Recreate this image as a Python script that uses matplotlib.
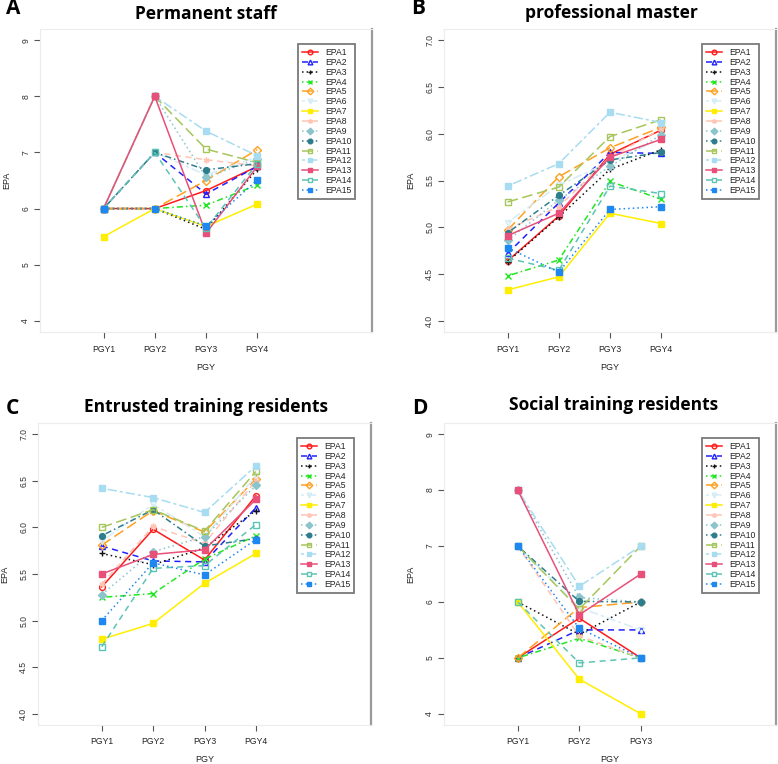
import numpy as np
import matplotlib
matplotlib.use("Agg")
import matplotlib.pyplot as plt

plt.rcParams['font.family'] = ['Liberation Sans', 'DejaVu Sans']

W, H = 778, 764

labels = ['EPA1', 'EPA2', 'EPA3', 'EPA4', 'EPA5', 'EPA6', 'EPA7', 'EPA8',
          'EPA9', 'EPA10', 'EPA11', 'EPA12', 'EPA13', 'EPA14', 'EPA15']
pgy4 = ['PGY1', 'PGY2', 'PGY3', 'PGY4']
pgy3 = ['PGY1', 'PGY2', 'PGY3']

# A: permanent staff
staff = [
    [6, 6, 6.32, 6.75],
    [6, 7, 6.26, 6.75],
    [6, 6, 5.63, 6.70],
    [6, 6, 6.06, 6.42],
    [6, 6, 6.50, 7.05],
    [6, 7, 6.60, 6.92],
    [5.5, 6, 5.68, 6.08],
    [6, 7, 6.87, 6.76],
    [6, 8, 6.56, 6.88],
    [6, 7, 6.69, 6.80],
    [6, 8, 7.06, 6.82],
    [6, 8, 7.38, 6.94],
    [6, 8, 5.56, 6.75],
    [6, 7, 5.65, 6.80],
    [6, 6, 5.69, 6.51],
]
# B: professional master
master = [
    [4.64, 5.12, 5.78, 6.04],
    [4.72, 5.26, 5.80, 5.79],
    [4.63, 5.11, 5.62, 5.83],
    [4.48, 4.65, 5.49, 5.30],
    [4.97, 5.54, 5.85, 6.07],
    [5.05, 5.45, 5.70, 5.95],
    [4.33, 4.47, 5.15, 5.04],
    [4.98, 5.22, 5.75, 6.05],
    [4.86, 5.29, 5.65, 5.99],
    [4.94, 5.34, 5.72, 5.80],
    [5.27, 5.43, 5.97, 6.15],
    [5.44, 5.68, 6.23, 6.12],
    [4.91, 5.15, 5.75, 5.94],
    [4.67, 4.54, 5.44, 5.36],
    [4.78, 4.52, 5.19, 5.22],
]
# C: entrusted training residents
entrusted = [
    [5.36, 5.98, 5.65, 6.34],
    [5.80, 5.64, 5.63, 6.21],
    [5.72, 5.60, 5.78, 6.18],
    [5.25, 5.29, 5.66, 5.91],
    [5.81, 6.18, 5.95, 6.52],
    [5.85, 6.25, 5.90, 6.55],
    [4.80, 4.97, 5.40, 5.72],
    [5.39, 6.01, 5.83, 6.50],
    [5.28, 5.74, 5.90, 6.45],
    [5.91, 6.19, 5.80, 5.88],
    [6.00, 6.19, 5.96, 6.60],
    [6.42, 6.32, 6.16, 6.66],
    [5.50, 5.71, 5.76, 6.30],
    [4.72, 5.56, 5.59, 6.03],
    [5.00, 5.62, 5.49, 5.87],
]
# D: social training residents
social = [
    [5, 5.71, 5],
    [5, 5.50, 5.5],
    [6, 5.42, 6],
    [5, 5.35, 5],
    [5, 5.90, 6],
    [7, 5.90, 5.5],
    [6, 4.62, 4],
    [7, 5.39, 5],
    [8, 6.08, 6],
    [7, 6.01, 6],
    [7, 5.87, 7],
    [8, 6.28, 7],
    [8, 5.77, 6.5],
    [6, 4.91, 5],
    [7, 5.53, 5],
]

colors = ['#ff1a1a', '#2020ff', '#111111', '#22e622', '#ffa020', '#d4ecf6',
          '#ffee00', '#ffc4b4', '#8cc4cc', '#2e7d8c', '#a6c65a', '#a8dcf0',
          '#e8507a', '#5cc4b4', '#1e88f0']
markers = ['o', '^', '+', 'x', 'D', 'v', 's', (6, 2, 0), 'D', 'o', 's', 's',
           's', 's', 's']
filled = [False, False, True, True, False, False, True, True, True, True,
          False, True, True, False, True]
# R lty 1..6 cycled
ltys = ['-', (0, (4, 3)), (0, (1, 2)), (0, (1, 2, 4, 2)), (0, (7, 3)), (0, (2, 2, 6, 2))]

fig = plt.figure(figsize=(W / 100, H / 100), dpi=100)


def panel(box, data, cats, ylim, yticks, yfmt, title, letter, tx, ty, lx, ly, xspan):
    l, t, r, b = box
    ax = fig.add_axes([l / W, 1 - b / H, (r - l) / W, (b - t) / H])
    x = np.arange(1, len(cats) + 1)
    for i, vals in enumerate(data):
        c = colors[i]
        ax.plot(x, vals, color=c, lw=1.1, linestyle=ltys[i % 6],
                marker=markers[i], markersize=4.2, markeredgewidth=1.0,
                markerfacecolor=c if filled[i] else 'none', markeredgecolor=c,
                label=labels[i])
    ax.set_xlim(-xspan * 0.04, xspan * 1.04)
    ax.set_ylim(ylim)
    ax.set_xticks(x)
    ax.set_xticklabels(cats, fontsize=6.2)
    ax.set_yticks(yticks)
    ax.set_yticklabels([yfmt % v for v in yticks], fontsize=6.2, rotation=90, va='center')
    ax.tick_params(axis='both', colors='#555555', length=4, width=0.8)
    ax.tick_params(axis='y', labelcolor='#333333', pad=3)
    ax.tick_params(axis='x', labelcolor='#222222', pad=5)
    for s in ['left', 'top', 'bottom']:
        ax.spines[s].set_color('#ececec')
        ax.spines[s].set_linewidth(0.8)
    ax.spines['right'].set_color('#9a9a9a')
    ax.spines['right'].set_linewidth(1.6)
    leg = ax.legend(loc='upper right', bbox_to_anchor=(0.95, 0.95), borderaxespad=0,
                    fontsize=6.2, handlelength=1.9, labelspacing=0.1,
                    handletextpad=0.8, borderpad=0.45, fancybox=False, framealpha=1,
                    markerscale=0.8)
    leg.get_frame().set_edgecolor('#7a7a7a')
    leg.get_frame().set_linewidth(1.3)
    for txt in leg.get_texts():
        txt.set_color('#222222')
    fig.text(tx / W, 1 - ty / H, title, fontsize=12.5, fontweight='bold',
             family=['Open Sans', 'DejaVu Sans'], ha='center', va='center')
    fig.text(lx / W, 1 - ly / H, letter, fontsize=15, fontweight='bold',
             family=['Open Sans', 'DejaVu Sans'], ha='left', va='center')
    ax.set_xlabel('PGY', fontsize=6.5, color='#222222')
    ax.set_ylabel('EPA', fontsize=6.5, color='#222222')
    ax.xaxis.set_label_coords(0.5, -35 / (b - t))
    ax.yaxis.set_label_coords(-33 / (r - l), 0.5)
    ax.xaxis.label.set_va('center')
    ax.yaxis.label.set_va('center')
    return ax


panel((40, 29, 372, 332), staff, pgy4, (3.8, 9.2), [4, 5, 6, 7, 8, 9], '%d',
      'Permanent staff', 'A', 206, 14, 6, 9, 6)
panel((444, 29, 776, 332), master, pgy4, (3.88, 7.12),
      [4.0, 4.5, 5.0, 5.5, 6.0, 6.5, 7.0], '%.1f',
      'professional master', 'B', 611, 13, 411, 9, 6)
panel((38, 423, 371, 725), entrusted, pgy4, (3.88, 7.12),
      [4.0, 4.5, 5.0, 5.5, 6.0, 6.5, 7.0], '%.1f',
      'Entrusted training residents', 'C', 206, 407, 6, 408, 6)
panel((444, 423, 776, 725), social, pgy3, (3.8, 9.2), [4, 5, 6, 7, 8, 9], '%d',
      'Social training residents', 'D', 614, 405, 412, 408, 5)

fig.savefig('out.png', dpi=100)
